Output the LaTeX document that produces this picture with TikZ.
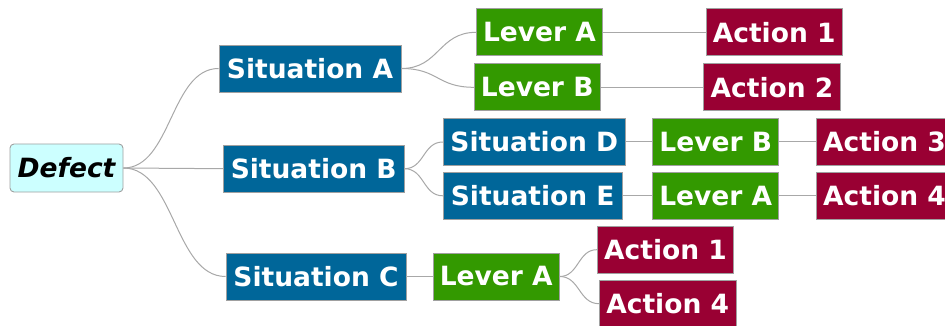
\documentclass[tikz,border=0pt]{standalone}
\usepackage{fontspec}
\setmainfont{DejaVu Sans}
\definecolor{sitcol}{HTML}{006699}
\definecolor{levcol}{HTML}{339900}
\definecolor{actcol}{HTML}{990033}
\definecolor{rootcol}{HTML}{CCFFFF}
\definecolor{edgecol}{HTML}{A8A8A8}
\definecolor{bordcol}{HTML}{A0A0A0}
\tikzset{
  box/.style={rectangle, draw=bordcol, line width=0.9pt, inner sep=0pt, minimum height=47pt,
    text=white, font=\fontsize{26.5}{30}\selectfont\bfseries},
  sit/.style={box, fill=sitcol},
  lev/.style={box, fill=levcol},
  act/.style={box, fill=actcol},
  root/.style={box, fill=rootcol, text=black, rounded corners=4pt, minimum height=48pt,
    font=\fontsize{26.5}{30}\selectfont\bfseries\itshape},
  conn/.style={draw=edgecol, line width=1pt}
}
\begin{document}
\begin{tikzpicture}[x=1pt,y=-1pt]
\useasboundingbox (0,0) rectangle (945,326);
\clip (0,0) rectangle (945,326);
\node[root, minimum width=113pt] (defect) at (66.5,168) {Defect};
\node[sit, minimum width=182pt] (sa) at (310,68.5) {Situation A};
\node[sit, minimum width=180.7pt] (sb) at (313.7,168.7) {Situation B};
\node[sit, minimum width=180pt] (sc) at (316,276.5) {Situation C};
\node[lev, minimum width=125.6pt] (la1) at (539.5,32.3) {Lever A};
\node[lev, minimum width=125.7pt] (lb1) at (537.2,87.3) {Lever B};
\node[act, minimum width=136.3pt] (a1) at (774.2,32.3) {Action 1};
\node[act, minimum width=136.6pt] (a2) at (772,87.3) {Action 2};
\node[sit, minimum width=182pt] (sd) at (534.3,142) {Situation D};
\node[sit, minimum width=178.7pt] (se) at (532.7,195.8) {Situation E};
\node[lev, minimum width=126pt] (lb2) at (715.7,142) {Lever B};
\node[lev, minimum width=126pt] (la2) at (715.7,195.8) {Lever A};
\node[act, minimum width=136.5pt] (a3) at (884.5,142) {Action 3};
\node[act, minimum width=136.5pt] (a4b) at (884.5,195.8) {Action 4};
\node[lev, minimum width=126pt] (lac) at (496.3,276.5) {Lever A};
\node[act, minimum width=136.4pt] (a1c) at (665.5,249.7) {Action 1};
\node[act, minimum width=136.7pt] (a4c) at (667.7,303.7) {Action 4};
% curved connectors
\draw[conn] (defect.east) .. controls +(48,0) and +(-48,0) .. (sa.west);
\draw[conn] (defect.east) .. controls +(50,0) and +(-50,0) .. (sb.west);
\draw[conn] (defect.east) .. controls +(51,0) and +(-51,0) .. (sc.west);
\draw[conn] (sa.east) .. controls +(38,0) and +(-38,0) .. (la1.west);
\draw[conn] (sa.east) .. controls +(37,0) and +(-37,0) .. (lb1.west);
\draw[conn] (sb.east) .. controls +(20,0) and +(-20,0) .. (sd.west);
\draw[conn] (sb.east) .. controls +(20,0) and +(-20,0) .. (se.west);
\draw[conn] (lac.east) .. controls +(19,0) and +(-19,0) .. (a1c.west);
\draw[conn] (lac.east) .. controls +(20,0) and +(-20,0) .. (a4c.west);
% straight connectors
\draw[conn] (la1) -- (a1);
\draw[conn] (lb1) -- (a2);
\draw[conn] (sd) -- (lb2);
\draw[conn] (lb2) -- (a3);
\draw[conn] (se) -- (la2);
\draw[conn] (la2) -- (a4b);
\draw[conn] (sc) -- (lac);
\end{tikzpicture}
\end{document}
